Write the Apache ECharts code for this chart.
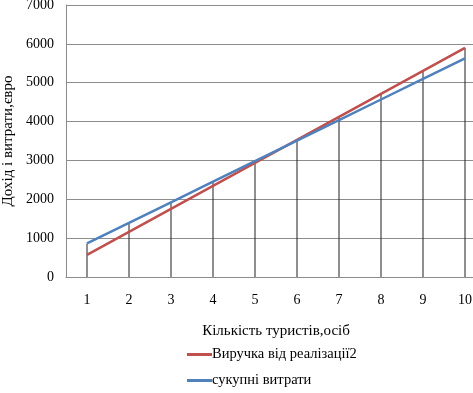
<!DOCTYPE html>
<html><head><meta charset="utf-8">
<script src="https://cdn.jsdelivr.net/npm/echarts@6/dist/echarts.min.js"></script>
<style>html,body{margin:0;padding:0;background:#fff}#c{width:473px;height:393px}</style>
</head><body><div id="c"></div>
<script>
const categories = ['1','2','3','4','5','6','7','8','9','10'];
const revenue = [570, 1162, 1754, 2346, 2938, 3530, 4122, 4714, 5306, 5898];
const costs = [865, 1394, 1923, 2452, 2981, 3510, 4039, 4568, 5097, 5626];
const revenueName = 'Виручка від реалізації2';
const costsName = 'сукупні витрати';
const dropLines = revenue.map((v, i) => Math.max(v, costs[i]));

const font = "'Liberation Serif', 'Times New Roman', serif";
const chart = echarts.init(document.getElementById('c'), null, {renderer: 'canvas'});
chart.setOption({
  animation: false,
  grid: {left: 66, top: 5, width: 420, height: 272, containLabel: false, outerBoundsMode: 'none'},
  xAxis: {
    type: 'category', data: categories, boundaryGap: true,
    name: 'Кількість туристів,осіб', nameLocation: 'middle', nameGap: 47,
    nameTextStyle: {fontFamily: font, fontSize: 15, color: '#000'},
    axisLine: {lineStyle: {color: '#8c8c8c'}},
    axisTick: {show: false},
    axisLabel: {fontFamily: font, fontSize: 14, color: '#000', margin: 16}
  },
  yAxis: {
    type: 'value', min: 0, max: 7000, interval: 1000,
    name: 'Дохід і витрати,євро', nameLocation: 'middle', nameGap: 48,
    nameTextStyle: {fontFamily: font, fontSize: 15, color: '#000'},
    axisLine: {show: true, lineStyle: {color: '#8c8c8c'}},
    axisTick: {show: false},
    axisLabel: {fontFamily: font, fontSize: 14, color: '#000', margin: 12, formatter: v => String(v)},
    splitLine: {lineStyle: {color: '#8c8c8c', width: 1}}
  },
  legend: {
    orient: 'vertical', left: 182, top: 342, itemGap: 11,
    icon: 'rect', itemWidth: 25, itemHeight: 3,
    data: [revenueName, costsName],
    textStyle: {fontFamily: font, fontSize: 14.5, color: '#000', padding: [0,0,0,-5]}
  },
  series: [
    {type: 'bar', name: 'drop', data: dropLines, barWidth: 1, itemStyle: {color: '#202020'}, silent: true, z: 1},
    {type: 'line', name: revenueName, data: revenue, showSymbol: false, symbol: 'none',
     lineStyle: {color: '#C0504D', width: 2.5}, itemStyle: {color: '#C0504D'}, z: 3},
    {type: 'line', name: costsName, data: costs, showSymbol: false, symbol: 'none',
     lineStyle: {color: '#4F81BD', width: 2.5}, itemStyle: {color: '#4F81BD'}, z: 3}
  ]
});
</script></body></html>
